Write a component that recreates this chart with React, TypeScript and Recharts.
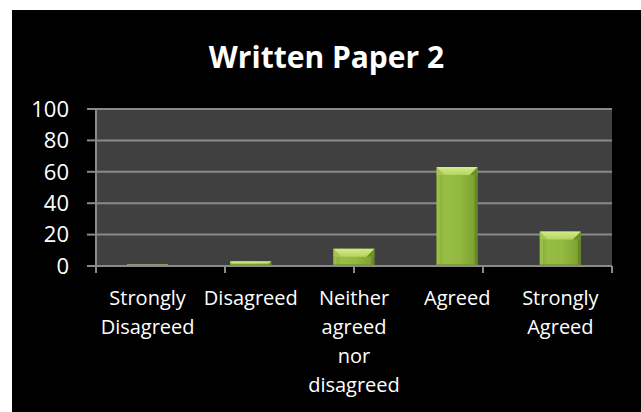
import { BarChart, Bar, XAxis, YAxis, CartesianGrid } from "recharts";

// survey responses (%)
const categories = [
  "Strongly\nDisagreed",
  "Disagreed",
  "Neither\nagreed\nnor\ndisagreed",
  "Agreed",
  "Strongly\nAgreed",
];
const responses = [0, 3, 11, 63, 22];
const yTicks = [0, 20, 40, 60, 80, 100];
const edgeTicks = [0, 1, 2, 3, 4, 5];
const title = "Written Paper 2";

const data = categories.map((name, i) => ({ name, value: responses[i] }));

const FONT = "'Open Sans', 'DejaVu Sans', sans-serif";
const GRID = "#8a8a8a";

function CategoryTick({ x, y, payload }: any) {
  const lines = String(payload.value).split("\n");
  return (
    <text x={x} y={y} textAnchor="middle" fill="#fff" fontSize={20} fontFamily={FONT}>
      {lines.map((line, i) => (
        <tspan key={i} x={x} dy={i === 0 ? 31 : 29}>
          {line}
        </tspan>
      ))}
    </text>
  );
}

// Excel-ish bevelled bar
function BevelBar(props: any) {
  const { x, y, width, height } = props;
  if (width == null || x == null) return null;
  if (!height || height < 1) {
    return <rect x={x} y={y - 2} width={width} height={2.5} fill="#8d9472" />;
  }
  const b = Math.min(8, height / 2, width / 2);
  const s = Math.min(3, width / 4);
  return (
    <g>
      <rect x={x} y={y} width={width} height={height} fill="url(#barFace)" />
      <polygon
        points={`${x},${y + b} ${x + s},${y + b} ${x + s},${y + height} ${x},${y + height}`}
        fill="#a7c955"
        opacity={0.6}
      />
      <polygon
        points={`${x + width},${y + b} ${x + width - s},${y + b} ${x + width - s},${y + height} ${x + width},${y + height}`}
        fill="#5f7f1f"
        opacity={0.7}
      />
      <polygon points={`${x},${y} ${x + b},${y + b} ${x},${y + b}`} fill="#a2c650" />
      <polygon
        points={`${x + width},${y} ${x + width - b},${y + b} ${x + width},${y + b}`}
        fill="#6f9029"
      />
      <polygon
        points={`${x},${y} ${x + width},${y} ${x + width - b},${y + b} ${x + b},${y + b}`}
        fill="url(#barTop)"
      />
      <rect x={x} y={y + height - 2} width={width} height={2} fill="#6e8e2a" opacity={0.6} />
    </g>
  );
}

export default function App() {
  return (
    <div style={{ position: "absolute", left: 0, top: 0, width: 641, height: 412, background: "#fff" }}>
      <div style={{ position: "absolute", left: 12, top: 10, width: 629, height: 402, background: "#000" }}>
        <div
          style={{
            position: "absolute",
            left: 0,
            top: 32,
            width: 629,
            textAlign: "center",
            color: "#fff",
            fontFamily: FONT,
            fontWeight: 700,
            fontSize: 30,
            lineHeight: "30px",
          }}
        >
          {title}
        </div>
        <BarChart
          width={629}
          height={402}
          data={data}
          margin={{ top: 99, right: 29, bottom: 0, left: 0 }}
          barCategoryGap="30%"
        >
          <defs>
            <linearGradient id="barFace" x1="0" y1="0" x2="1" y2="0">
              <stop offset="0%" stopColor="#86aa36" />
              <stop offset="20%" stopColor="#97bd45" />
              <stop offset="55%" stopColor="#93b940" />
              <stop offset="100%" stopColor="#7c9f30" />
            </linearGradient>
            <linearGradient id="barTop" x1="0" y1="0" x2="0" y2="1">
              <stop offset="0%" stopColor="#d4ea8c" />
              <stop offset="100%" stopColor="#b4d55c" />
            </linearGradient>
          </defs>
          <CartesianGrid
            xAxisId="b"
            vertical={false}
            stroke={GRID}
            strokeWidth={2}
            fill="#404040"
            fillOpacity={1}
          />
          <XAxis
            xAxisId="b"
            dataKey="name"
            interval={0}
            height={138}
            axisLine={false}
            tickLine={false}
            tickSize={0}
            tickMargin={0}
            tick={<CategoryTick />}
          />
          <XAxis
            xAxisId="a"
            type="number"
            domain={[0, 5]}
            ticks={edgeTicks}
            tickFormatter={() => ""}
            tickSize={7}
            height={8}
            axisLine={{ stroke: GRID, strokeWidth: 2 }}
            tickLine={{ stroke: GRID, strokeWidth: 2 }}
          />
          <YAxis
            domain={[0, 100]}
            ticks={yTicks}
            width={84}
            tickSize={9}
            tickMargin={18}
            axisLine={{ stroke: GRID, strokeWidth: 2 }}
            tickLine={{ stroke: GRID, strokeWidth: 2 }}
            tick={{ fill: "#fff", fontSize: 22, fontFamily: FONT }}
          />
          <Bar xAxisId="b" dataKey="value" shape={<BevelBar />} isAnimationActive={false} />
        </BarChart>
      </div>
    </div>
  );
}
